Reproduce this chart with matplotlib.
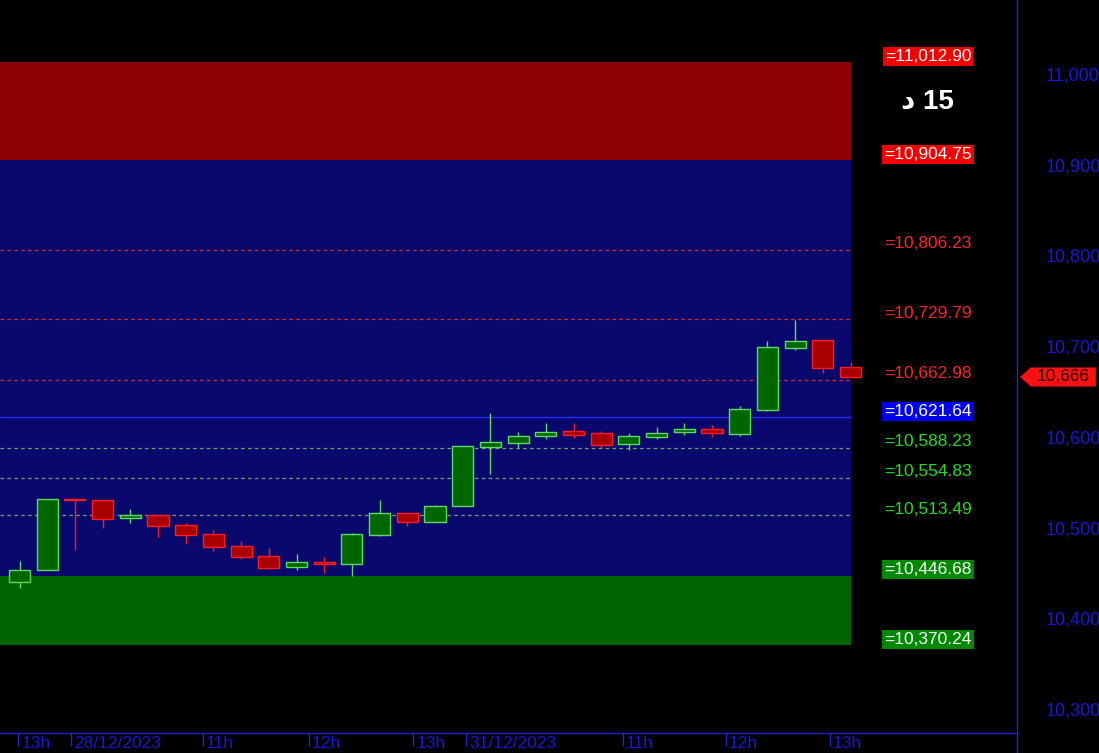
import matplotlib
matplotlib.use('Agg')
import matplotlib.pyplot as plt
import numpy as np
from matplotlib.transforms import blended_transform_factory
from matplotlib.patches import Polygon
from matplotlib.lines import Line2D

plt.rcParams['font.family'] = ['Liberation Sans', 'DejaVu Sans']

# ---- data (15-minute candles) ----
opens = [10439.6, 10452.8, 10531.0, 10530.3, 10510.2, 10514.1, 10502.8, 10492.8, 10479.6, 10468.6,
         10456.1, 10462.0, 10460.1, 10492.1, 10516.0, 10506.4, 10524.1, 10589.1, 10593.5, 10600.5,
         10606.1, 10604.2, 10592.4, 10600.1, 10605.0, 10608.6, 10603.4, 10629.9, 10698.2, 10706.7, 10677.0]
closes = [10452.8, 10531.1, 10530.0, 10509.7, 10513.8, 10502.0, 10491.8, 10478.9, 10467.5, 10455.7,
          10461.6, 10460.0, 10492.8, 10515.6, 10506.4, 10523.7, 10589.5, 10594.0, 10600.9, 10605.0,
          10602.4, 10591.3, 10600.9, 10603.9, 10608.6, 10603.9, 10630.7, 10699.0, 10705.6, 10676.2, 10666.0]
highs = [10463.1, 10531.1, 10531.5, 10530.3, 10520.1, 10514.1, 10505.3, 10497.3, 10485.1, 10477.8,
         10471.1, 10467.8, 10494.3, 10530.3, 10516.0, 10525.2, 10589.5, 10626.6, 10605.0, 10615.6,
         10614.9, 10606.7, 10603.9, 10611.2, 10615.6, 10613.0, 10634.3, 10706.0, 10728.8, 10706.7, 10682.8]
lows = [10433.6, 10452.8, 10475.2, 10499.8, 10505.3, 10489.2, 10481.8, 10474.1, 10465.3, 10453.9,
        10453.2, 10449.5, 10446.5, 10491.0, 10501.7, 10506.0, 10524.1, 10558.7, 10588.0, 10598.0,
        10599.0, 10587.7, 10585.1, 10597.6, 10602.0, 10600.1, 10600.9, 10628.8, 10695.7, 10670.0, 10666.0]

red_zone = [11012.90, 10904.75]
green_zone = [10446.68, 10370.24]
red_levels = [10806.23, 10729.79, 10662.98]
pivot_level = 10621.64
green_levels = [10588.23, 10554.83, 10513.49]
last_price = 10666

yticks = [10300, 10400, 10500, 10600, 10700, 10800, 10900, 11000]
xtick_pos = [-0.04, 1.85, 6.61, 10.45, 14.22, 16.12, 21.78, 25.5, 29.26]
xtick_labels = ['13h', '28/12/2023', '11h', '12h', '13h', '31/12/2023', '11h', '12h', '13h']
timeframe_label = 'د 15'

# ---- styles ----
AX_BLUE = '#2323d0'
TXT_BLUE = '#1818d8'
NAVY = '#08086d'

o = np.array(opens); c = np.array(closes); h = np.array(highs); l = np.array(lows)
n = len(o)
x = np.arange(n)

fig = plt.figure(figsize=(10.99, 7.53), dpi=100, facecolor='black')
ax = fig.add_axes([0, 20 / 753, 1017 / 1099, 733 / 753])
ax.set_facecolor('black')
ax.set_xlim(-0.704, 36.01)
ax.set_ylim(10273.5, 11081.6)

x0 = ax.get_xlim()[0]
xe = x[-1]

# zones
ax.fill_between([x0, xe], red_zone[1], red_zone[0], color='#8b0000', lw=0, zorder=1)
ax.fill_between([x0, xe], green_zone[0], red_zone[1], color=NAVY, lw=0, zorder=1)
ax.fill_between([x0, xe], green_zone[1], green_zone[0], color='#006400', lw=0, zorder=1)

# level lines
ax.hlines(red_levels, x0, xe, colors='#d02a2a', linestyles=(0, (3, 2.5)), lw=0.9, zorder=2)
ax.hlines(green_levels, x0, xe, colors='#6f9f6f', linestyles=(0, (3, 2.5)), lw=0.9, zorder=2)
ax.hlines([pivot_level], x0, xe, colors='#2a2aff', lw=1.0, zorder=2)

# candles
up = c >= o
edge = np.where(up, '#62d862', '#ff1c1c')
fill = np.where(up, '#006600', '#a80000')
ax.vlines(x, l, h, colors=edge, lw=1.0, zorder=3)
body_lo = np.minimum(o, c)
body_h = np.maximum(np.abs(c - o), 1.0)
ax.bar(x, body_h, bottom=body_lo, width=0.76, color=fill, edgecolor=edge, linewidth=1.0, zorder=4)

# level labels
bl = blended_transform_factory(ax.transAxes, ax.transData)
lx = 0.9125

def level_label(val, color, box=None):
    kw = dict(xy=(lx, val), xycoords=bl, xytext=(0, 6), textcoords='offset pixels',
              ha='center', va='center', fontsize=12.5, color=color, zorder=6,
              annotation_clip=False)
    if box is not None:
        kw['bbox'] = dict(boxstyle='square,pad=0.12', facecolor=box, edgecolor='none')
    ax.annotate(f'={val:,.2f}', **kw)

for v in red_zone:
    level_label(v, 'white', '#f40000')
for v in red_levels:
    level_label(v, '#ff2222')
level_label(pivot_level, 'white', '#0000ee')
for v in green_levels:
    level_label(v, '#22dd22')
for v in green_zone:
    level_label(v, 'white', '#008800')

# timeframe
ax.text(0.9115, 0.861, timeframe_label, transform=ax.transAxes, ha='center', va='center',
        fontsize=20, fontweight='bold', color='white', zorder=6)

# spines
for s in ['top', 'left']:
    ax.spines[s].set_visible(False)
for s in ['right', 'bottom']:
    ax.spines[s].set_color(AX_BLUE)
    ax.spines[s].set_linewidth(1.0)
fig.add_artist(Line2D([1017 / 1099] * 2, [0, 20 / 753], transform=fig.transFigure,
                      color=AX_BLUE, lw=1.0))

# y axis on right
ax.yaxis.tick_right()
ax.set_yticks(yticks)
ax.set_yticklabels([f'{v:,}' for v in yticks])
ax.tick_params(axis='y', length=0, pad=20.5, labelcolor=TXT_BLUE, labelsize=13)

# x axis
ax.set_xticks(xtick_pos)
ax.tick_params(axis='x', length=9.5, width=1, color=AX_BLUE, direction='out', labelbottom=False)
bx = blended_transform_factory(ax.transData, ax.transAxes)
for p, t in zip(xtick_pos, xtick_labels):
    ax.annotate(t, xy=(p, 0), xycoords=bx, xytext=(3, -10), textcoords='offset pixels',
                ha='left', va='center', fontsize=12.5, color=TXT_BLUE, annotation_clip=False)

# last price tag
half = 9.5 * (ax.get_ylim()[1] - ax.get_ylim()[0]) / 733
tag = Polygon([[1.003, last_price], [1.0135, last_price + half], [1.0775, last_price + half],
               [1.0775, last_price - half], [1.0135, last_price - half]],
              closed=True, transform=bl, facecolor='#ff1010', edgecolor='none', clip_on=False, zorder=6)
ax.add_patch(tag)
ax.text(1.045, last_price, f'{last_price:,}', transform=bl, ha='center', va='center',
        fontsize=12.5, color='#1a0000', zorder=7, clip_on=False)

fig.savefig('out.png', dpi=100, facecolor='black')
